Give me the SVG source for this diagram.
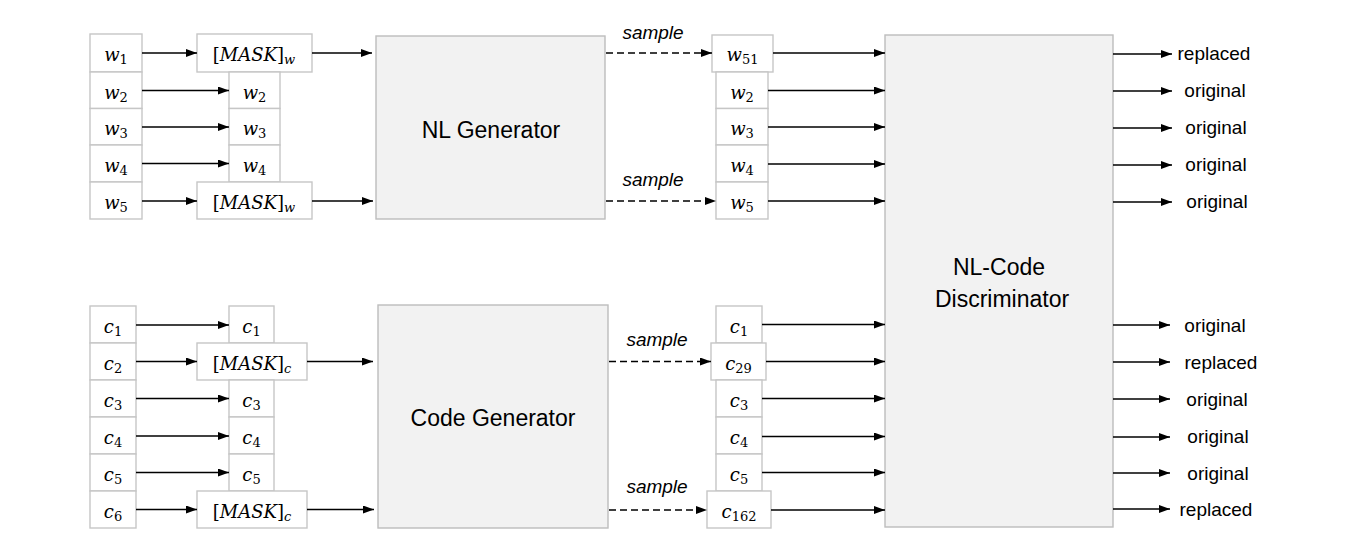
<svg xmlns="http://www.w3.org/2000/svg" width="1355" height="551" viewBox="0 0 1355 551">
<defs>
<marker id="ah" markerUnits="userSpaceOnUse" markerWidth="12" markerHeight="9" refX="11" refY="4" orient="auto">
<path d="M0,0 L11,4 L0,8 z" fill="#000"/>
</marker>
</defs>
<style>
.tok{fill:#fff;stroke:#c6c6c6;stroke-width:1.4}
.blk{fill:#f2f2f2;stroke:#bdbdbd;stroke-width:1.4}
.m{font-family:"DejaVu Serif","Liberation Serif",serif;font-style:italic;font-size:18px;fill:#000;text-anchor:middle}
.up{font-style:normal}
.sub{font-size:13px;font-style:normal}
.subi{font-size:13px;font-style:italic}
.lbl{font-family:"Liberation Sans",Arial,sans-serif;font-size:19px;fill:#000;text-anchor:middle}
.big{font-family:"Liberation Sans",Arial,sans-serif;font-size:23px;fill:#000;text-anchor:middle}
.smp{font-family:"Liberation Sans",Arial,sans-serif;font-size:19px;font-style:italic;fill:#000;text-anchor:middle}
.a{stroke:#000;stroke-width:1.5;fill:none;marker-end:url(#ah)}
.d{stroke:#000;stroke-width:1.5;fill:none;stroke-dasharray:7 4;marker-end:url(#ah)}
</style>
<rect width="1355" height="551" fill="#fff"/>

<g id="nl-inputs">
<rect class="tok" x="90" y="34" width="52" height="38"/><text class="m" x="116" y="61">w<tspan class="sub" dy="3">1</tspan></text>
<rect class="tok" x="90" y="72" width="52" height="36.5"/><text class="m" x="116" y="98.5">w<tspan class="sub" dy="3">2</tspan></text>
<rect class="tok" x="90" y="108.5" width="52" height="36.5"/><text class="m" x="116" y="135">w<tspan class="sub" dy="3">3</tspan></text>
<rect class="tok" x="90" y="145" width="52" height="37"/><text class="m" x="116" y="171.5">w<tspan class="sub" dy="3">4</tspan></text>
<rect class="tok" x="90" y="182" width="52" height="37"/><text class="m" x="116" y="209">w<tspan class="sub" dy="3">5</tspan></text>
</g>
<g id="nl-masked">
<rect class="tok" x="197" y="34" width="115" height="38"/><text class="m" x="254" y="61"><tspan class="up">[</tspan>MASK<tspan class="up">]</tspan><tspan class="subi" dy="3">w</tspan></text>
<rect class="tok" x="229" y="72" width="51" height="36.5"/><text class="m" x="254.5" y="98.5">w<tspan class="sub" dy="3">2</tspan></text>
<rect class="tok" x="229" y="108.5" width="51" height="36.5"/><text class="m" x="254.5" y="135">w<tspan class="sub" dy="3">3</tspan></text>
<rect class="tok" x="229" y="145" width="51" height="37"/><text class="m" x="254.5" y="171.5">w<tspan class="sub" dy="3">4</tspan></text>
<rect class="tok" x="197" y="182" width="115" height="37"/><text class="m" x="254" y="209"><tspan class="up">[</tspan>MASK<tspan class="up">]</tspan><tspan class="subi" dy="3">w</tspan></text>
</g>
<g id="nl-generator">
<rect class="blk" x="376" y="36" width="229" height="183"/>
<text class="big" x="491" y="138">NL Generator</text>
</g>
<g id="nl-sampled">
<rect class="tok" x="712" y="35" width="61" height="37"/><text class="m" x="742.5" y="61">w<tspan class="sub" dy="3">51</tspan></text>
<rect class="tok" x="716" y="72" width="52" height="36.5"/><text class="m" x="742" y="98.5">w<tspan class="sub" dy="3">2</tspan></text>
<rect class="tok" x="716" y="108.5" width="52" height="36.5"/><text class="m" x="742" y="135">w<tspan class="sub" dy="3">3</tspan></text>
<rect class="tok" x="716" y="145" width="52" height="37"/><text class="m" x="742" y="171.5">w<tspan class="sub" dy="3">4</tspan></text>
<rect class="tok" x="716" y="182" width="52" height="37"/><text class="m" x="742" y="209">w<tspan class="sub" dy="3">5</tspan></text>
</g>

<g id="code-inputs">
<rect class="tok" x="90" y="306" width="46" height="37"/><text class="m" x="113" y="333">c<tspan class="sub" dy="3">1</tspan></text>
<rect class="tok" x="90" y="343" width="46" height="37"/><text class="m" x="113" y="370">c<tspan class="sub" dy="3">2</tspan></text>
<rect class="tok" x="90" y="380" width="46" height="37"/><text class="m" x="113" y="407">c<tspan class="sub" dy="3">3</tspan></text>
<rect class="tok" x="90" y="417" width="46" height="37"/><text class="m" x="113" y="444">c<tspan class="sub" dy="3">4</tspan></text>
<rect class="tok" x="90" y="454" width="46" height="37"/><text class="m" x="113" y="481">c<tspan class="sub" dy="3">5</tspan></text>
<rect class="tok" x="90" y="491" width="46" height="37"/><text class="m" x="113" y="518">c<tspan class="sub" dy="3">6</tspan></text>
</g>
<g id="code-masked">
<rect class="tok" x="229" y="306" width="45" height="37"/><text class="m" x="251.5" y="333">c<tspan class="sub" dy="3">1</tspan></text>
<rect class="tok" x="197" y="343" width="110" height="37"/><text class="m" x="252" y="370"><tspan class="up">[</tspan>MASK<tspan class="up">]</tspan><tspan class="subi" dy="3">c</tspan></text>
<rect class="tok" x="229" y="380" width="45" height="37"/><text class="m" x="251.5" y="407">c<tspan class="sub" dy="3">3</tspan></text>
<rect class="tok" x="229" y="417" width="45" height="37"/><text class="m" x="251.5" y="444">c<tspan class="sub" dy="3">4</tspan></text>
<rect class="tok" x="229" y="454" width="45" height="37"/><text class="m" x="251.5" y="481">c<tspan class="sub" dy="3">5</tspan></text>
<rect class="tok" x="197" y="491" width="110" height="37"/><text class="m" x="252" y="518"><tspan class="up">[</tspan>MASK<tspan class="up">]</tspan><tspan class="subi" dy="3">c</tspan></text>
</g>
<g id="code-generator">
<rect class="blk" x="378" y="305" width="230" height="223"/>
<text class="big" x="493" y="426">Code Generator</text>
</g>
<g id="code-sampled">
<rect class="tok" x="716" y="306" width="46" height="37"/><text class="m" x="739" y="333">c<tspan class="sub" dy="3">1</tspan></text>
<rect class="tok" x="711" y="343" width="55" height="37"/><text class="m" x="738.5" y="370">c<tspan class="sub" dy="3">29</tspan></text>
<rect class="tok" x="716" y="380" width="46" height="37"/><text class="m" x="739" y="407">c<tspan class="sub" dy="3">3</tspan></text>
<rect class="tok" x="716" y="417" width="46" height="37"/><text class="m" x="739" y="444">c<tspan class="sub" dy="3">4</tspan></text>
<rect class="tok" x="716" y="454" width="46" height="37"/><text class="m" x="739" y="481">c<tspan class="sub" dy="3">5</tspan></text>
<rect class="tok" x="707" y="491" width="64" height="37"/><text class="m" x="739" y="518">c<tspan class="sub" dy="3">162</tspan></text>
</g>

<g id="discriminator">
<rect class="blk" x="885" y="35" width="228" height="492"/>
<text class="big" x="999" y="275">NL-Code</text>
<text class="big" x="1002" y="306.5">Discriminator</text>
</g>

<g id="outputs">
<text class="lbl" x="1214" y="60">replaced</text>
<text class="lbl" x="1215" y="97">original</text>
<text class="lbl" x="1216" y="134">original</text>
<text class="lbl" x="1216" y="171">original</text>
<text class="lbl" x="1217" y="208">original</text>
<text class="lbl" x="1215" y="332">original</text>
<text class="lbl" x="1221" y="369">replaced</text>
<text class="lbl" x="1217" y="406">original</text>
<text class="lbl" x="1218" y="443">original</text>
<text class="lbl" x="1218" y="480">original</text>
<text class="lbl" x="1216" y="516">replaced</text>
</g>

<g id="sample-labels">
<text class="smp" x="653" y="39">sample</text>
<text class="smp" x="653" y="186">sample</text>
<text class="smp" x="657" y="346">sample</text>
<text class="smp" x="657" y="493">sample</text>
</g>

<g id="connectors">
<line class="a" x1="142" y1="53" x2="197" y2="53"/>
<line class="a" x1="142" y1="90.5" x2="229" y2="90.5"/>
<line class="a" x1="142" y1="127" x2="229" y2="127"/>
<line class="a" x1="142" y1="163.5" x2="229" y2="163.5"/>
<line class="a" x1="142" y1="201" x2="197" y2="201"/>
<line class="a" x1="312" y1="53" x2="372" y2="53"/>
<line class="a" x1="312" y1="201" x2="373" y2="201"/>
<line class="d" x1="606" y1="53" x2="712" y2="53"/>
<line class="d" x1="606" y1="201" x2="716" y2="201"/>
<line class="a" x1="773" y1="53" x2="885" y2="53"/>
<line class="a" x1="768" y1="90.5" x2="885" y2="90.5"/>
<line class="a" x1="768" y1="127" x2="885" y2="127"/>
<line class="a" x1="768" y1="164" x2="885" y2="164"/>
<line class="a" x1="768" y1="201" x2="885" y2="201"/>
<line class="a" x1="1113" y1="54" x2="1172" y2="54"/>
<line class="a" x1="1113" y1="91" x2="1172" y2="91"/>
<line class="a" x1="1113" y1="128" x2="1172" y2="128"/>
<line class="a" x1="1113" y1="165" x2="1172" y2="165"/>
<line class="a" x1="1113" y1="202" x2="1172" y2="202"/>

<line class="a" x1="136" y1="325" x2="229" y2="325"/>
<line class="a" x1="136" y1="361.5" x2="197" y2="361.5"/>
<line class="a" x1="136" y1="398.5" x2="229" y2="398.5"/>
<line class="a" x1="136" y1="436" x2="229" y2="436"/>
<line class="a" x1="136" y1="472.5" x2="229" y2="472.5"/>
<line class="a" x1="136" y1="509.5" x2="197" y2="509.5"/>
<line class="a" x1="307" y1="361.5" x2="373" y2="361.5"/>
<line class="a" x1="307" y1="509.5" x2="374" y2="509.5"/>
<line class="d" x1="609" y1="361.5" x2="711" y2="361.5"/>
<line class="d" x1="609" y1="510" x2="707" y2="510"/>
<line class="a" x1="762" y1="324.5" x2="885" y2="324.5"/>
<line class="a" x1="766" y1="361.5" x2="885" y2="361.5"/>
<line class="a" x1="762" y1="398.5" x2="885" y2="398.5"/>
<line class="a" x1="762" y1="436.5" x2="885" y2="436.5"/>
<line class="a" x1="762" y1="472.5" x2="885" y2="472.5"/>
<line class="a" x1="771" y1="510" x2="885" y2="510"/>
<line class="a" x1="1113" y1="325" x2="1170" y2="325"/>
<line class="a" x1="1113" y1="362" x2="1170" y2="362"/>
<line class="a" x1="1113" y1="399" x2="1170" y2="399"/>
<line class="a" x1="1113" y1="437" x2="1170" y2="437"/>
<line class="a" x1="1113" y1="473" x2="1170" y2="473"/>
<line class="a" x1="1113" y1="509" x2="1170" y2="509"/>
</g>
</svg>
